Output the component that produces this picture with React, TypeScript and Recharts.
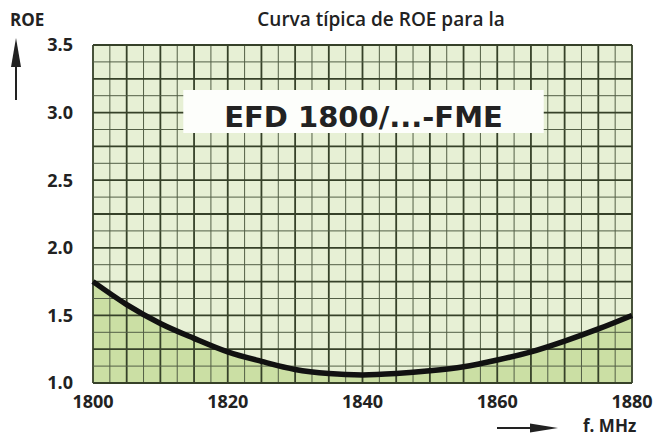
import {
  ComposedChart,
  Area,
  Line,
  XAxis,
  YAxis,
  CartesianGrid,
  ReferenceLine,
  ReferenceArea,
} from "recharts";

const freqs = [1800, 1805, 1810, 1815, 1820, 1825, 1830, 1835, 1840, 1845, 1850, 1855, 1860, 1865, 1870, 1875, 1880];
const roeValues = [1.75, 1.58, 1.44, 1.33, 1.23, 1.16, 1.1, 1.07, 1.06, 1.07, 1.09, 1.12, 1.17, 1.23, 1.31, 1.4, 1.5];

const xTicks = [1800, 1820, 1840, 1860, 1880];
const yTicks = [1.0, 1.5, 2.0, 2.5, 3.0, 3.5];

// cuadrícula: 2.5 MHz / 0.125, las líneas gruesas cada 5 MHz / 0.25
const gridX = Array.from({ length: 33 }, (_, i) => 1800 + i * 2.5);
const gridY = Array.from({ length: 21 }, (_, i) => 1 + i * 0.125);

const modelLabel = "EFD 1800/...-FME";

const FONT = '"DejaVu Sans", sans-serif';
const TICK_FONT = '"Open Sans", sans-serif';
const INK = "#222";

export default function App() {
  const data = freqs.map((f, i) => ({ f, roe: roeValues[i] }));

  return (
    <div style={{ position: "absolute", left: 0, top: 0, width: 669, height: 437, background: "#fff" }}>
      <ComposedChart width={669} height={437} data={data} margin={{ top: 45, right: 37, bottom: 0, left: 0 }}>
        <CartesianGrid fill="#e7f0d5" stroke="none" vertical={false} horizontal={false} />
        <XAxis
          dataKey="f"
          type="number"
          domain={[1800, 1880]}
          ticks={xTicks}
          axisLine={false}
          tickLine={false}
          tickSize={0}
          tickMargin={12}
          height={54}
          interval={0}
          tick={{ fill: INK, fontSize: 18, fontWeight: "bold", fontFamily: TICK_FONT }}
        />
        <YAxis
          type="number"
          domain={[1, 3.5]}
          ticks={yTicks}
          axisLine={false}
          tickLine={false}
          tickSize={0}
          tickMargin={20}
          width={93}
          interval={0}
          tickFormatter={(v: number) => v.toFixed(1)}
          tick={{ fill: INK, fontSize: 18, fontWeight: "bold", fontFamily: TICK_FONT }}
        />
        <Area
          type="monotone"
          dataKey="roe"
          fill="#cbdfa4"
          fillOpacity={1}
          stroke="none"
          isAnimationActive={false}
          zIndex={50}
        />
        {gridX.map((x, i) => (
          <ReferenceLine
            key={"gx" + i}
            x={x}
            stroke={i % 2 === 0 ? "#364129" : "#525e45"}
            strokeWidth={i % 2 === 0 ? 1.8 : 1}
            zIndex={150}
          />
        ))}
        {gridY.map((y, i) => (
          <ReferenceLine
            key={"gy" + i}
            y={y}
            stroke={i % 2 === 0 ? "#364129" : "#525e45"}
            strokeWidth={i % 2 === 0 ? 1.8 : 1}
            zIndex={150}
          />
        ))}
        <ReferenceArea
          x1={1813.4}
          x2={1866.9}
          y1={2.85}
          y2={3.167}
          fill="#fdfefb"
          fillOpacity={1}
          stroke="none"
          zIndex={300}
          label={(props: any) => {
            const vb = props.viewBox || {};
            return (
              <text
                x={vb.x + vb.width / 2}
                y={vb.y + 37}
                textAnchor="middle"
                fill={INK}
                fontSize={29}
                fontWeight="bold"
                fontFamily={FONT}
              >
                {modelLabel}
              </text>
            );
          }}
        />
        <Line
          type="monotone"
          dataKey="roe"
          stroke="#111"
          strokeWidth={5.5}
          dot={false}
          activeDot={false}
          isAnimationActive={false}
          zIndex={450}
        />
      </ComposedChart>
      <svg
        width={669}
        height={437}
        style={{ position: "absolute", left: 0, top: 0, pointerEvents: "none" }}
      >
        <text x={381} y={26} textAnchor="middle" fill={INK} fontSize={19} fontWeight={600} fontFamily={TICK_FONT}>
          Curva típica de ROE para la
        </text>
        <text x={10} y={26} fill={INK} fontSize={17} fontWeight="bold" fontFamily={TICK_FONT}>
          ROE
        </text>
        <line x1={16} y1={100} x2={16} y2={64} stroke={INK} strokeWidth={2} />
        <polygon points="16,38 11,67 21,67" fill={INK} />
        <line x1={497} y1={428} x2={532} y2={428} stroke={INK} strokeWidth={2} />
        <polygon points="558,428 530,423.5 530,432.5" fill={INK} />
        <text x={583} y={432} fill={INK} fontSize={17} fontWeight="bold" fontFamily={TICK_FONT}>
          f. MHz
        </text>
      </svg>
    </div>
  );
}
